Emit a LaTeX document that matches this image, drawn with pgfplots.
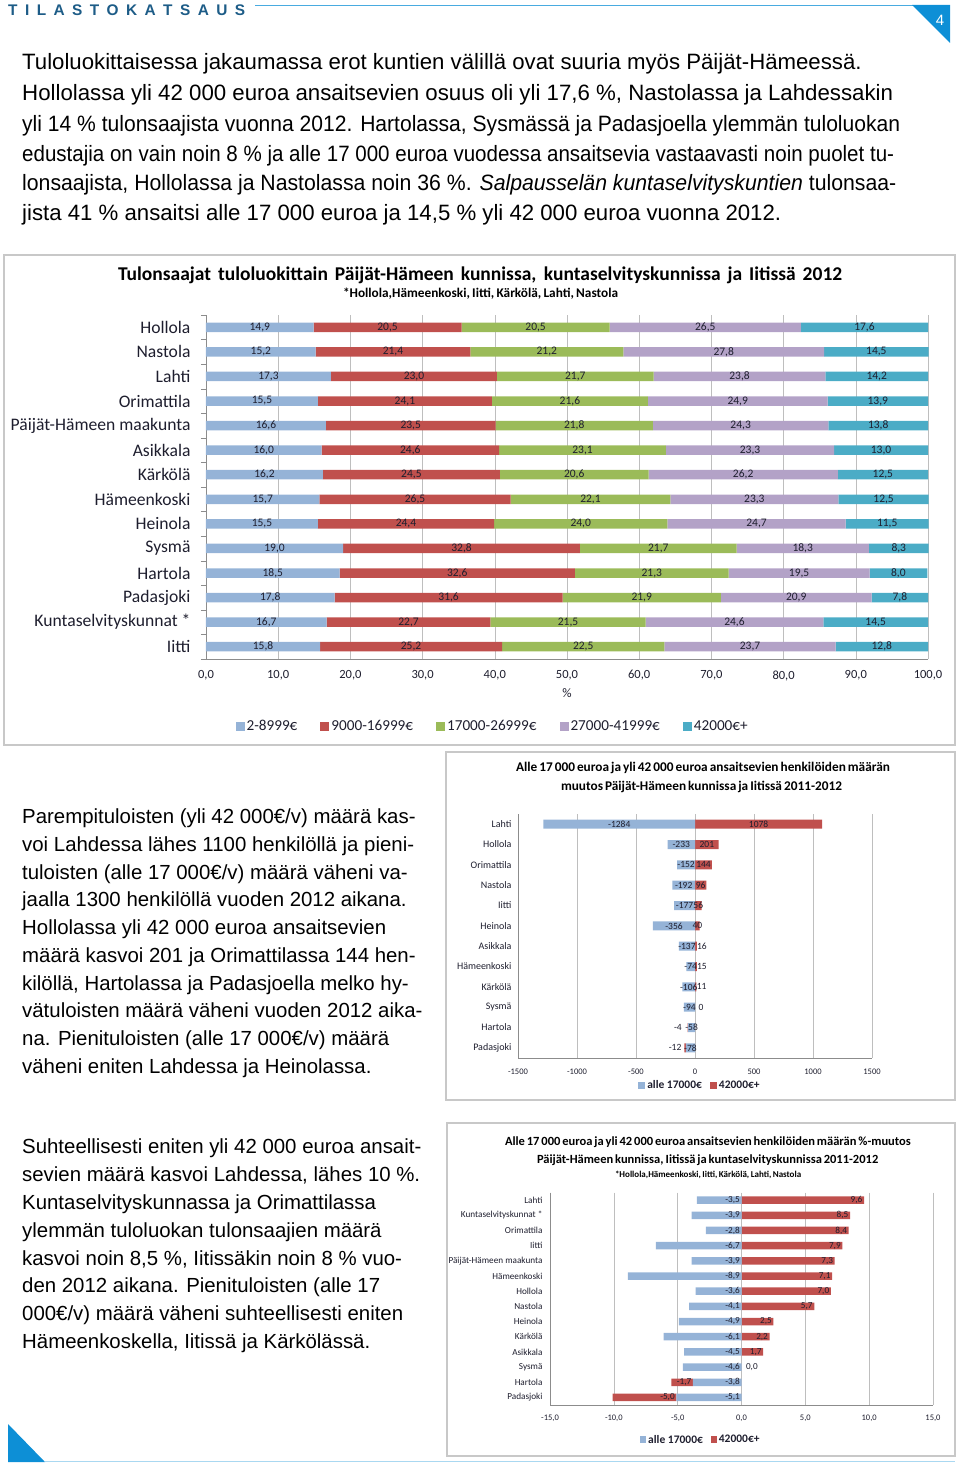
\documentclass[border=0pt]{standalone}
\usepackage{graphicx}
\usepackage{pgfplots}
\pgfplotsset{compat=1.18}
\usepackage{pgfplotstable}
\usepackage{fontspec}
\setmainfont{Liberation Sans}
\newfontfamily\calfont{Carlito}
\definecolor{cA}{HTML}{95B3D7}
\definecolor{cB}{HTML}{C0504D}
\definecolor{cC}{HTML}{9BBB59}
\definecolor{cD}{HTML}{B3A2C7}
\definecolor{cE}{HTML}{4BACC6}
\definecolor{hdr}{HTML}{1D5C87}
\definecolor{tri}{HTML}{0D8FD6}
\definecolor{frm}{HTML}{C8C8C8}
\definecolor{grd}{HTML}{BEBEBE}
\definecolor{axl}{HTML}{8C8C8C}
\definecolor{lbl}{HTML}{1E1E2E}
\newcommand\fs[1]{\fontsize{#1}{#1}\selectfont}
\newcommand\tline[3]{\node[anchor=base west,inner sep=0pt] at (#1pt,-#2pt) {#3};}
\newcommand\jline[4]{\node[anchor=base west,inner sep=0pt] at (#1pt,-#2pt) {\resizebox{#3pt}{\height}{#4}};}

\pgfplotstableread{
i a b c d e
0 14.9 20.5 20.5 26.5 17.6
1 15.2 21.4 21.2 27.8 14.5
2 17.3 23.0 21.7 23.8 14.2
3 15.5 24.1 21.6 24.9 13.9
4 16.6 23.5 21.8 24.3 13.8
5 16.0 24.6 23.1 23.3 13.0
6 16.2 24.5 20.6 26.2 12.5
7 15.7 26.5 22.1 23.3 12.5
8 15.5 24.4 24.0 24.7 11.5
9 19.0 32.8 21.7 18.3 8.3
10 18.5 32.6 21.3 19.5 8.0
11 17.8 31.6 21.9 20.9 7.8
12 16.7 22.7 21.5 24.6 14.5
13 15.8 25.2 22.5 23.7 12.8
}\tabA

\pgfplotstableread{
i a b
0 -1284 1078
1 -233 201
2 -152 144
3 -192 96
4 -177 56
5 -356 40
6 -137 16
7 -74 15
8 -106 11
9 -94 0
10 -58 -4
11 -78 -12
}\tabB

\pgfplotstableread{
i a b
0 -3.5 9.6
1 -3.9 8.5
2 -2.8 8.4
3 -6.7 7.9
4 -3.9 7.3
5 -8.9 7.1
6 -3.6 7.0
7 -4.1 5.7
8 -4.9 2.5
9 -6.1 2.2
10 -4.5 1.7
11 -4.6 0.0
12 -3.8 -1.7
13 -5.1 -5.0
}\tabC

\begin{document}
\begin{tikzpicture}
\useasboundingbox (0,0) rectangle (960pt,-1464pt);

% header
\node[anchor=base west,inner sep=0pt,text=hdr] at (8pt,-15.5pt) {\bfseries\fs{15.4}\makebox[237pt][s]{T I L A S T O K A T S A U S}};
\draw[tri!75, line width=1.3pt] (255pt,-5.5pt) -- (914pt,-5.5pt);
\fill[tri] (912pt,-5pt) -- (950pt,-5pt) -- (950pt,-43pt) -- cycle;
\node[text=white,inner sep=0pt] at (940pt,-20pt) {\fs{15}4};
\fill[tri] (8pt,-1424pt) -- (8pt,-1462pt) -- (45pt,-1462pt) -- cycle;
\draw[tri!35, line width=0.8pt] (45pt,-1461.6pt) -- (955pt,-1461.6pt);

% top paragraph
\begin{scope}[font=\fs{22.2}]
\tline{22}{70}{Tuloluokittaisessa jakaumassa erot kuntien välillä ovat suuria myös Päijät-Hämeessä.}
\jline{22}{100}{871}{Hollolassa yli 42 000 euroa ansaitsevien osuus oli yli 17,6 \%, Nastolassa ja Lahdessakin}
\jline{22}{131}{878}{yli 14 \% tulonsaajista vuonna 2012. Hartolassa, Sysmässä ja Padasjoella ylemmän tuloluokan}
\jline{22}{161}{872}{edustajia on vain noin 8 \% ja alle 17 000 euroa vuodessa ansaitsevia vastaavasti noin puolet tu-}
\jline{22}{190}{874}{lonsaajista, Hollolassa ja Nastolassa noin 36 \%. \textit{Salpausselän kuntaselvityskuntien} tulonsaa-}
\tline{22}{220}{jista 41 \% ansaitsi alle 17 000 euroa ja 14,5 \% yli 42 000 euroa vuonna 2012.}
\end{scope}

% left column text
\begin{scope}[font=\fs{20.4}]
\tline{22}{823}{Parempituloisten (yli 42 000€/v) määrä kas-}
\tline{22}{851}{voi Lahdessa lähes 1100 henkilöllä ja pieni-}
\tline{22}{879}{tuloisten (alle 17 000€/v) määrä väheni va-}
\tline{22}{906}{jaalla 1300 henkilöllä vuoden 2012 aikana.}
\tline{22}{934}{Hollolassa yli 42 000 euroa ansaitsevien}
\tline{22}{962}{määrä kasvoi 201 ja Orimattilassa 144 hen-}
\tline{22}{990}{kilöllä, Hartolassa ja Padasjoella melko hy-}
\tline{22}{1017}{vätuloisten määrä väheni vuoden 2012 aika-}
\tline{22}{1045}{na. Pienituloisten (alle 17 000€/v) määrä}
\tline{22}{1073}{väheni eniten Lahdessa ja Heinolassa.}
\tline{22}{1153}{Suhteellisesti eniten yli 42 000 euroa ansait-}
\tline{22}{1181}{sevien määrä kasvoi Lahdessa, lähes 10 \%.}
\tline{22}{1209}{Kuntaselvityskunnassa ja Orimattilassa}
\tline{22}{1237}{ylemmän tuloluokan tulonsaajien määrä}
\tline{22}{1265}{kasvoi noin 8,5 \%, Iitissäkin noin 8 \% vuo-}
\tline{22}{1292}{den 2012 aikana. Pienituloisten (alle 17}
\tline{22}{1320}{000€/v) määrä väheni suhteellisesti eniten}
\tline{22}{1348}{Hämeenkoskella, Iitissä ja Kärkölässä.}
\end{scope}

% frames
\draw[frm, line width=1.3pt] (4pt,-255pt) rectangle (955pt,-745pt);
\draw[frm, line width=1.3pt] (446pt,-752pt) rectangle (955pt,-1100pt);
\draw[frm, line width=1.3pt] (447pt,-1123pt) rectangle (955pt,-1456pt);

% chart titles
\node[anchor=base,inner sep=0pt] at (480pt,-280pt) {\calfont\bfseries\fs{19.5}\makebox[724pt][s]{Tulonsaajat tuloluokittain Päijät-Hämeen kunnissa, kuntaselvityskunnissa ja Iitissä 2012}};
\node[anchor=base,inner sep=0pt] at (480pt,-297pt) {\calfont\bfseries\fs{13.3}\makebox[274pt][s]{*Hollola,Hämeenkoski, Iitti, Kärkölä, Lahti, Nastola}};
\node[anchor=base,inner sep=0pt] at (697.5pt,-771.5pt) {\calfont\bfseries\fs{13.3}\makebox[363pt][s]{Alle 17 000 euroa ja yli 42 000 euroa ansaitsevien henkilöiden määrän}};
\node[anchor=base,inner sep=0pt] at (697pt,-790.5pt) {\calfont\bfseries\fs{13.3}\makebox[272pt][s]{muutos Päijät-Hämeen kunnissa ja Iitissä 2011-2012}};
\node[anchor=base,inner sep=0pt] at (698.5pt,-1145pt) {\calfont\bfseries\fs{12.5}\makebox[387pt][s]{Alle 17 000 euroa ja yli 42 000 euroa ansaitsevien henkilöiden määrän \%-muutos}};
\node[anchor=base,inner sep=0pt] at (698pt,-1163.5pt) {\calfont\bfseries\fs{12.5}\makebox[322pt][s]{Päijät-Hämeen kunnissa, Iitissä ja kuntaselvityskunnissa 2011-2012}};
\node[anchor=base,inner sep=0pt] at (699pt,-1177pt) {\calfont\bfseries\fs{9}\makebox[168pt][s]{*Hollola,Hämeenkoski, Iitti, Kärkölä, Lahti, Nastola}};

% ---------- chart 1 : bars ----------
\begin{axis}[
  at={(206pt,-659pt)}, anchor=south west,
  scale only axis, width=722pt, height=344pt,
  xbar stacked, bar width=9.5pt,
  xmin=0, xmax=100, ymin=-0.5, ymax=13.5, y dir=reverse,
  xtick={0,10,...,100}, ytick={0,...,13},
  yticklabels={Hollola,Nastola,Lahti,Orimattila,Päijät-Hämeen maakunta,Asikkala,Kärkölä,Hämeenkoski,Heinola,Sysmä,Hartola,Padasjoki,Kuntaselvityskunnat *,Iitti},
  minor ytick={-0.5,0.5,...,13.5},
  axis lines*=left, axis line style={axl},
  xmajorgrids, grid style={grd, line width=0.6pt},
  tick align=outside, major tick length=0pt, minor tick length=5pt,
  tick style={axl},
  xticklabel style={font=\calfont\fs{12.5}, text=lbl, yshift=-8pt, /pgf/number format/.cd, fixed, fixed zerofill, precision=1, use comma, assume math mode=true},
  yticklabel style={font=\calfont\fs{17.6}, text=lbl, xshift=-12pt},
  xlabel={\%}, xlabel style={font=\calfont\fs{13}, text=lbl, at={(axis description cs:0.5,-0.099)}, anchor=center},
  legend image code/.code={\fill[#1] (0pt,-4.5pt) rectangle (9pt,4.5pt);},
  legend style={at={(0.397,-0.195)}, anchor=center, draw=none, fill=none, legend columns=5, font=\calfont\fs{15.2}, text=lbl, /tikz/every even column/.append style={column sep=21pt}},
  clip=false,
]
\addplot[fill=cA, draw=none] table[x=a, y=i] {\tabA};
\addplot[fill=cB, draw=none] table[x=b, y=i] {\tabA};
\addplot[fill=cC, draw=none] table[x=c, y=i] {\tabA};
\addplot[fill=cD, draw=none] table[x=d, y=i] {\tabA};
\addplot[fill=cE, draw=none] table[x=e, y=i] {\tabA};
\legend{2-8999€, 9000-16999€, 17000-26999€, 27000-41999€, 42000€+}
\end{axis}
% chart 1 : value labels at the middle of each segment
\begin{axis}[
  at={(206pt,-659pt)}, anchor=south west,
  scale only axis, width=722pt, height=344pt, hide axis, clip=false,
  xmin=0, xmax=100, ymin=-0.5, ymax=13.5, y dir=reverse,
  point meta=explicit,
  nodes near coords={\pgfmathprintnumber[fixed,fixed zerofill,precision=1,use comma,assume math mode=true]{\pgfplotspointmeta}},
  nodes near coords style={font=\calfont\fs{11.5}, text=lbl, anchor=center, inner sep=0pt},
]
\addplot[draw=none] table[x expr={\thisrow{a}/2}, y=i, meta=a] {\tabA};
\addplot[draw=none] table[x expr={\thisrow{a}+\thisrow{b}/2}, y=i, meta=b] {\tabA};
\addplot[draw=none] table[x expr={\thisrow{a}+\thisrow{b}+\thisrow{c}/2}, y=i, meta=c] {\tabA};
\addplot[draw=none] table[x expr={\thisrow{a}+\thisrow{b}+\thisrow{c}+\thisrow{d}/2}, y=i, meta=d] {\tabA};
\addplot[draw=none] table[x expr={\thisrow{a}+\thisrow{b}+\thisrow{c}+\thisrow{d}+\thisrow{e}/2}, y=i, meta=e] {\tabA};
\end{axis}

% ---------- chart 2 ----------
\begin{axis}[
  at={(518pt,-1058pt)}, anchor=south west,
  scale only axis, width=354pt, height=244pt,
  xbar stacked, bar width=9pt,
  xmin=-1500, xmax=1500, xtick distance=500, ymin=-0.5, ymax=11.5, y dir=reverse,
  ytick={0,...,11},
  yticklabels={Lahti,Hollola,Orimattila,Nastola,Iitti,Heinola,Asikkala,Hämeenkoski,Kärkölä,Sysmä,Hartola,Padasjoki},
  axis lines*=left, axis line style={axl},
  xmajorgrids, grid style={grd, line width=0.6pt},
  major tick length=0pt,
  xticklabel style={font=\calfont\fs{8.5}, text=lbl, yshift=-7pt, /pgf/number format/.cd, fixed, precision=0, 1000 sep={}, assume math mode=true},
  yticklabel style={font=\calfont\fs{10}, text=lbl, xshift=-3pt},
  legend image code/.code={\fill[#1] (0pt,-3.5pt) rectangle (7pt,3.5pt);},
  legend style={at={(0.514,-0.111)}, anchor=center, draw=none, fill=none, legend columns=2, font=\calfont\bfseries\fs{11.5}, text=lbl, /tikz/every even column/.append style={column sep=6pt}, inner sep=0pt},
  clip=false,
]
\addplot[fill=cA, draw=none] table[x=a, y=i] {\tabB};
\addplot[fill=cB, draw=none] table[x=b, y=i] {\tabB};
\legend{alle 17000€, 42000€+}
\end{axis}
\begin{axis}[
  at={(518pt,-1058pt)}, anchor=south west,
  scale only axis, width=354pt, height=244pt, hide axis, clip=false,
  xmin=-1500, xmax=1500, ymin=-0.5, ymax=11.5, y dir=reverse,
  point meta=explicit,
  nodes near coords={\pgfmathprintnumber[fixed,precision=0,1000 sep={},assume math mode=true]{\pgfplotspointmeta}},
  nodes near coords style={font=\calfont\fs{9.5}, text=lbl, anchor=center, inner sep=0pt},
]
\addplot[draw=none] table[x expr={\thisrow{a}/2}, y=i, meta=a] {\tabB};
\addplot[draw=none] table[x expr={(\thisrow{b}>-0.5)*(\thisrow{b}/2+(\thisrow{b}<30)*51)+(\thisrow{b}<-0.5)*(\thisrow{a}+\thisrow{b}/2-(\thisrow{b}>-30)*85)}, y=i, meta=b] {\tabB};
\end{axis}

% ---------- chart 3 ----------
\begin{axis}[
  at={(550pt,-1405pt)}, anchor=south west,
  scale only axis, width=383pt, height=212.5pt,
  xbar stacked, bar width=7.5pt,
  xmin=-15, xmax=15, xtick distance=5, ymin=-0.5, ymax=13.5, y dir=reverse,
  ytick={0,...,13},
  yticklabels={Lahti,Kuntaselvityskunnat *,Orimattila,Iitti,Päijät-Hämeen maakunta,Hämeenkoski,Hollola,Nastola,Heinola,Kärkölä,Asikkala,Sysmä,Hartola,Padasjoki},
  axis lines*=left, axis line style={axl},
  xmajorgrids, grid style={grd, line width=0.6pt},
  major tick length=0pt,
  xticklabel style={font=\calfont\fs{8.5}, text=lbl, yshift=-6pt, /pgf/number format/.cd, fixed, fixed zerofill, precision=1, use comma, assume math mode=true},
  yticklabel style={font=\calfont\fs{9.2}, text=lbl, xshift=-4pt},
  legend image code/.code={\fill[#1] (0pt,-3.5pt) rectangle (6pt,3.5pt);},
  legend style={at={(0.394,-0.164)}, anchor=center, draw=none, fill=none, legend columns=2, font=\calfont\bfseries\fs{11.5}, text=lbl, /tikz/every even column/.append style={column sep=6pt}, inner sep=0pt},
  clip=false,
]
\addplot[fill=cA, draw=none] table[x=a, y=i] {\tabC};
\addplot[fill=cB, draw=none] table[x=b, y=i] {\tabC};
\legend{alle 17000€, 42000€+}
\end{axis}
\begin{axis}[
  at={(550pt,-1405pt)}, anchor=south west,
  scale only axis, width=383pt, height=212.5pt, hide axis, clip=false,
  xmin=-15, xmax=15, ymin=-0.5, ymax=13.5, y dir=reverse,
  point meta=explicit,
  nodes near coords={\pgfmathprintnumber[fixed,fixed zerofill,precision=1,use comma,assume math mode=true]{\pgfplotspointmeta}},
  nodes near coords style={font=\calfont\fs{9.2}, text=lbl, anchor=east, inner sep=0pt, xshift=-1.5pt},
]
\addplot[draw=none] table[x expr={0*\thisrow{a}}, y=i, meta=a] {\tabC};
\addplot[draw=none] table[x expr={(\thisrow{b}>0)*\thisrow{b}+(\thisrow{b}<0)*\thisrow{a}+(\thisrow{b}==0)*1.4}, y=i, meta=b] {\tabC};
\end{axis}
\end{tikzpicture}
\end{document}
